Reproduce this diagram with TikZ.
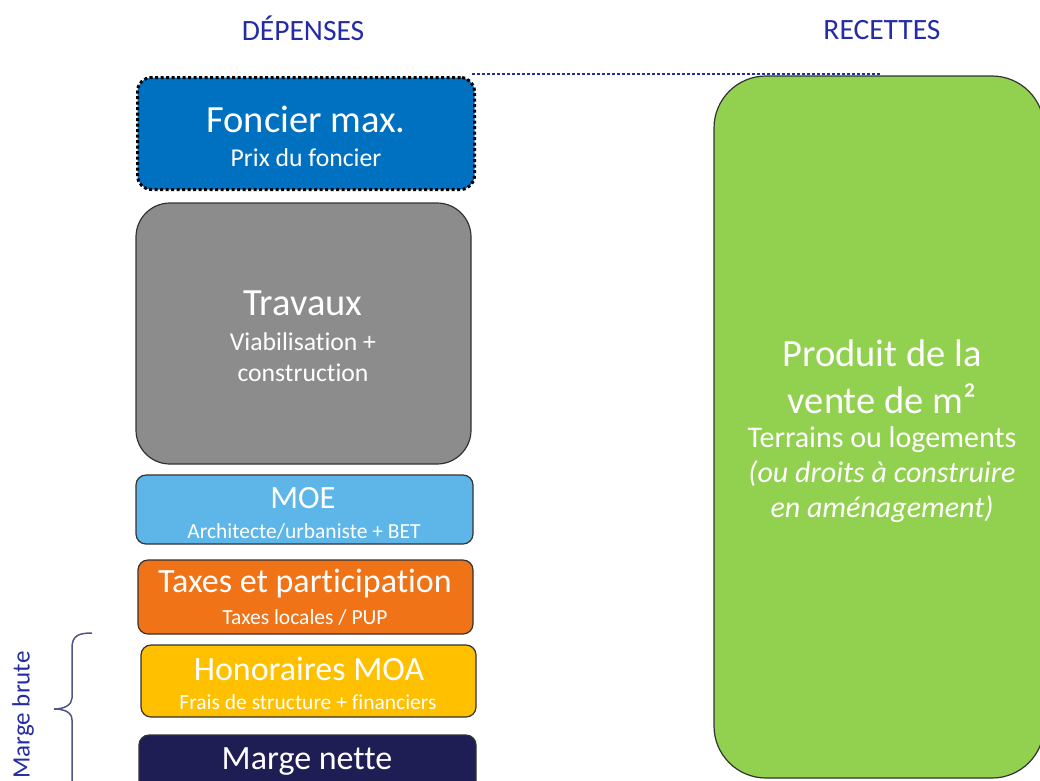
\documentclass[tikz,border=0pt]{standalone}
\usepackage{fontspec}
\setmainfont{Carlito}[Ligatures=NoCommon]
\definecolor{hdr}{RGB}{36,44,165}
\definecolor{brace}{RGB}{80,86,135}
\definecolor{fonc}{RGB}{0,112,192}
\definecolor{trav}{RGB}{140,140,140}
\definecolor{moe}{RGB}{94,182,232}
\definecolor{taxe}{RGB}{240,115,24}
\definecolor{hono}{RGB}{255,192,0}
\definecolor{marge}{RGB}{30,30,85}
\definecolor{vert}{RGB}{146,208,80}
\definecolor{edge}{RGB}{50,50,50}
\tikzset{
  box/.style={draw=edge, line width=1.2pt, inner sep=0pt},
  big/.style={text=white, font=\fontsize{34}{38}\selectfont, inner sep=0pt},
  mid/.style={text=white, font=\fontsize{25.7}{28}\selectfont, inner sep=0pt},
  small/.style={text=white, font=\fontsize{21.5}{24}\selectfont, inner sep=0pt},
  hdrtxt/.style={text=hdr, font=\fontsize{29.5}{32}\selectfont, inner sep=0pt}
}
\begin{document}
\begin{tikzpicture}[x=1pt,y=-1pt]
\useasboundingbox (0,0) rectangle (1040,780);
% headers
\node[hdrtxt] (dep) at (303,28) {DÉPENSES};
\node[hdrtxt] (rec) at (882,30) {RECETTES};
% green box
\fill[vert, draw=edge, line width=1.2pt, rounded corners=52pt] (714,76) rectangle (1044,778);
\coordinate (gtop) at (880,74);
% Foncier
\node[box, draw=black, line width=3pt, dash pattern=on 3pt off 2.5pt, fill=fonc, rounded corners=14pt, minimum width=337pt, minimum height=112pt] (fon) at (306,133.5) {};
\draw[hdr, line width=2.5pt, dash pattern=on 2.5pt off 2.5pt] (fon.north east) ++(-4,-2) coordinate (ftr) -- (gtop);
\node[big, font=\fontsize{38.5}{42}\selectfont] (fon1) at (306,119) {Foncier max.};
\node[mid] (fon2) at (306,158) {Prix du foncier};
% Travaux
\node[box, fill=trav, rounded corners=34pt, minimum width=335pt, minimum height=261pt] (trv) at (303.5,333.5) {};
\node[big, font=\fontsize{38.5}{42}\selectfont] (trv1) at (303,303) {Travaux};
\node[mid] (trv2) at (303,342) {Viabilisation +};
\node[mid] (trv3) at (303,373) {construction};
% MOE
\node[box, fill=moe, rounded corners=10pt, minimum width=337pt, minimum height=69pt] (moe) at (304.5,509.5) {};
\node[big, font=\fontsize{32.5}{36}\selectfont] (moe1) at (303,498) {MOE};
\node[small] (moe2) at (304,531) {Architecte/urbaniste + BET};
% Taxes
\node[box, fill=taxe, rounded corners=10pt, minimum width=335pt, minimum height=74pt] (tax) at (305.5,597) {};
\node[big] (tax1) at (305,584) {Taxes et participation};
\node[small] (tax2) at (305,617) {Taxes locales / PUP};
% Honoraires
\node[box, fill=hono, rounded corners=10pt, minimum width=335pt, minimum height=72pt] (hon) at (308.5,681) {};
\node[big] (hon1) at (309,669) {Honoraires MOA};
\node[small] (hon2) at (308,702) {Frais de structure + financiers};
% Marge nette
\node[box, fill=marge, rounded corners=10pt, minimum width=337pt, minimum height=80pt] (mrg) at (307.5,775) {};
\node[big] (mrg1) at (307,761) {Marge nette};
% green text
\node[big, font=\fontsize{38.5}{42}\selectfont] (g1) at (882,353) {Produit de la};
\node[big, font=\fontsize{38.5}{42}\selectfont] (g2) at (882,399) {vente de m²};
\node[mid, font=\fontsize{30}{33}\selectfont] (g3) at (882,440) {Terrains ou logements};
\node[mid, font=\fontsize{30}{33}\itshape] (g4) at (882,474) {(ou droits à construire};
\node[mid, font=\fontsize{30}{33}\itshape] (g5) at (882,509) {en aménagement)};
% brace
\draw[brace, line width=1.5pt] (92,633) .. controls (78,633) and (72,636) .. (72,648) -- (72,698) .. controls (72,705) and (64,709) .. (54,709) .. controls (64,709) and (72,712) .. (72,720) -- (72,790);
\node[hdrtxt, rotate=90, font=\fontsize{25}{28}\selectfont] (mb) at (23,715) {Marge brute};
\end{tikzpicture}
\end{document}
